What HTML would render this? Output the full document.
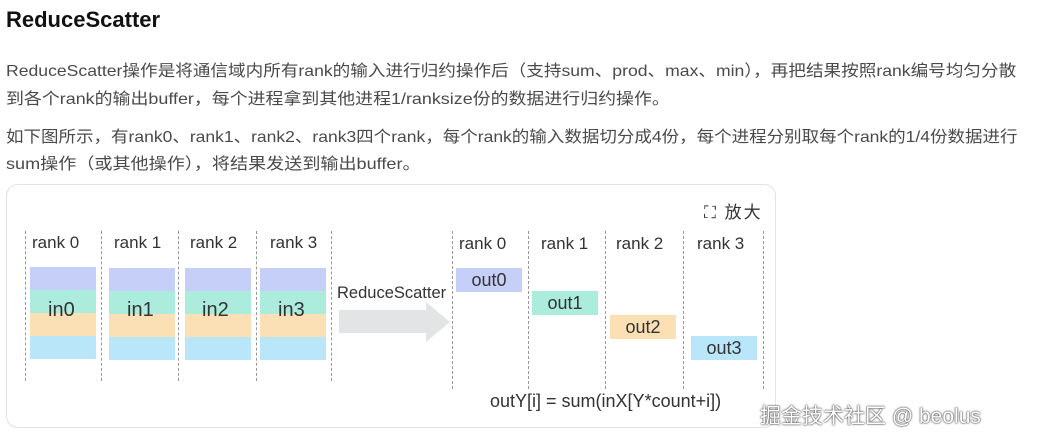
<!DOCTYPE html>
<html><head><meta charset="utf-8"><style>
body{margin:0;width:1041px;height:444px;background:#fff;position:relative;overflow:hidden;font-family:"Liberation Sans","Noto Sans CJK SC",sans-serif}
.t{position:absolute;white-space:nowrap}
.p{font-size:16px;color:#4a4a4a;transform-origin:0 0}
.card{position:absolute;left:6px;top:184px;width:770px;height:244px;border:1px solid #e3e3e3;border-radius:12px;box-sizing:border-box}
.d{position:absolute;width:0;border-left:1.5px dashed #999}
.lbl{position:absolute;font-size:17px;color:#333;white-space:nowrap}
.blk{position:absolute;width:66px}
.blk div{height:23px}
.o{position:absolute;width:66px;height:24px;font-size:18px;color:#333;text-align:center;line-height:24px}
</style></head><body>
<div class="t" style="left:6px;top:7px;font-size:22px;font-weight:bold;color:#111">ReduceScatter</div>
<div class="t p" style="left:6px;top:57px;transform:scaleX(1.10)">ReduceScatter操作是将通信域内所有rank的输入进行归约操作后（支持sum、prod、max、min），再把结果按照rank编号均匀分散</div>
<div class="t p" style="left:6px;top:85px;transform:scaleX(1.12)">到各个rank的输出buffer，每个进程拿到其他进程1/ranksize份的数据进行归约操作。</div>
<div class="t p" style="left:6px;top:123px;transform:scaleX(1.094)">如下图所示，有rank0、rank1、rank2、rank3四个rank，每个rank的输入数据切分成4份，每个进程分别取每个rank的1/4份数据进行</div>
<div class="t p" style="left:6px;top:150px;transform:scaleX(1.13)">sum操作（或其他操作），将结果发送到输出buffer。</div>
<div class="card"></div>
<div class="t" style="left:704px;top:198px;font-size:17px;color:#333;letter-spacing:2px">⛶ 放大</div>

<div class="d" style="left:25px;top:231px;height:150px"></div>
<div class="d" style="left:101px;top:231px;height:150px"></div>
<div class="d" style="left:178px;top:231px;height:150px"></div>
<div class="d" style="left:256px;top:231px;height:150px"></div>
<div class="d" style="left:331px;top:231px;height:150px"></div>
<div class="d" style="left:452px;top:231px;height:158px"></div>
<div class="d" style="left:528px;top:231px;height:158px"></div>
<div class="d" style="left:605px;top:231px;height:158px"></div>
<div class="d" style="left:683px;top:231px;height:158px"></div>
<div class="d" style="left:763px;top:231px;height:158px"></div>

<div class="lbl" style="left:32px;top:233px">rank 0</div>
<div class="lbl" style="left:114px;top:233px">rank 1</div>
<div class="lbl" style="left:190px;top:233px">rank 2</div>
<div class="lbl" style="left:270px;top:233px">rank 3</div>
<div class="lbl" style="left:459px;top:234px">rank 0</div>
<div class="lbl" style="left:541px;top:234px">rank 1</div>
<div class="lbl" style="left:616px;top:234px">rank 2</div>
<div class="lbl" style="left:697px;top:234px">rank 3</div>

<div class="blk" style="left:30px;top:267px"><div style="background:#c5cff7"></div><div style="background:#abecdc"></div><div style="background:#fbe0b6"></div><div style="background:#b9e6f8"></div></div>
<div class="blk" style="left:109px;top:268px"><div style="background:#c5cff7"></div><div style="background:#abecdc"></div><div style="background:#fbe0b6"></div><div style="background:#b9e6f8"></div></div>
<div class="blk" style="left:185px;top:268px"><div style="background:#c5cff7"></div><div style="background:#abecdc"></div><div style="background:#fbe0b6"></div><div style="background:#b9e6f8"></div></div>
<div class="blk" style="left:260px;top:268px"><div style="background:#c5cff7"></div><div style="background:#abecdc"></div><div style="background:#fbe0b6"></div><div style="background:#b9e6f8"></div></div>
<div class="lbl" style="left:48px;top:299px;font-size:20px">in0</div>
<div class="lbl" style="left:127px;top:299px;font-size:20px">in1</div>
<div class="lbl" style="left:202px;top:299px;font-size:20px">in2</div>
<div class="lbl" style="left:278px;top:299px;font-size:20px">in3</div>

<div class="lbl" style="left:337px;top:284px;font-size:16.5px">ReduceScatter</div>
<svg style="position:absolute;left:338px;top:300px" width="114" height="44"><polygon points="1,10 88,10 88,2 112,22 88,42 88,33 1,33" fill="#e3e4e6"/></svg>

<div class="o" style="left:456px;top:268px;background:#c5cff7">out0</div>
<div class="o" style="left:532px;top:291px;background:#abecdc">out1</div>
<div class="o" style="left:610px;top:315px;background:#fbe0b6">out2</div>
<div class="o" style="left:691px;top:336px;background:#b9e6f8">out3</div>

<div class="lbl" style="left:490px;top:391px;font-size:18px">outY[i] = sum(inX[Y*count+i])</div>
<div class="t" style="left:760px;top:400px;font-size:21px;color:#fff;text-shadow:0 0 2px #333,0 0 1px #333">掘金技术社区 @ beolus</div>
</body></html>
